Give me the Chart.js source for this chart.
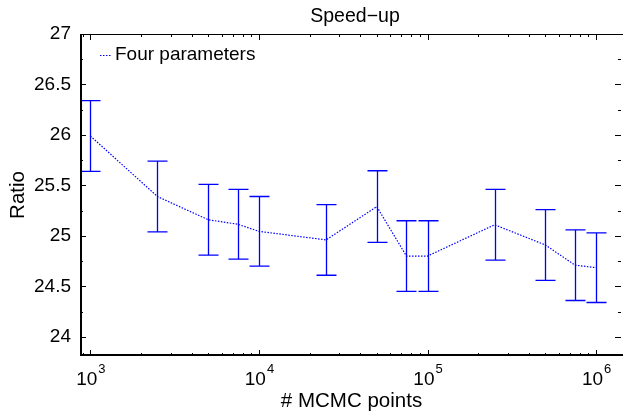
<!DOCTYPE html>
<html>
<head>
<meta charset="utf-8">
<script src="https://cdn.jsdelivr.net/npm/chart.js@4.4.0/dist/chart.umd.min.js"></script>
<style>
  html, body { margin: 0; padding: 0; background: #fff; }
  canvas { display: block; }
</style>
</head>
<body>
<canvas id="speedup" width="623" height="415"></canvas>
<script>
// data
const mcmcPoints = [1000, 2500, 5000, 7500, 10000, 25000, 50000, 75000, 100000, 250000, 500000, 750000, 1000000];
const ratio      = [25.99, 25.39, 25.16, 25.115, 25.045, 24.96, 25.29, 24.80, 24.80, 25.11, 24.91, 24.71, 24.685];
const ratioErr   = [0.35, 0.35, 0.35, 0.345, 0.345, 0.35, 0.355, 0.35, 0.35, 0.35, 0.35, 0.35, 0.345];
const yTicks     = [24, 24.5, 25, 25.5, 26, 26.5, 27];
const xTicks     = [1e3, 1e4, 1e5, 1e6];
const seriesName = 'Four parameters';

const FONT = "'Liberation Sans', Arial, Helvetica, sans-serif";
const BLUE = '#0000ff';

// error bars, axis frame, minor ticks, labels
const decorPlugin = {
  id: 'decor',
  afterDatasetsDraw(chart) {
    const ctx = chart.ctx;
    const xs = chart.scales.x, ys = chart.scales.y;
    ctx.save();
    ctx.strokeStyle = BLUE;
    ctx.lineWidth = 1.3;
    mcmcPoints.forEach((v, i) => {
      const px = Math.round(xs.getPixelForValue(v)) + 0.5;
      const top = ys.getPixelForValue(ratio[i] + ratioErr[i]);
      const bot = ys.getPixelForValue(ratio[i] - ratioErr[i]);
      ctx.beginPath();
      ctx.moveTo(px, top); ctx.lineTo(px, bot);
      ctx.moveTo(px - 10, top); ctx.lineTo(px + 10, top);
      ctx.moveTo(px - 10, bot); ctx.lineTo(px + 10, bot);
      ctx.stroke();
    });
    ctx.restore();
  },
  afterDraw(chart) {
    const ctx = chart.ctx;
    const a = chart.chartArea;
    const xs = chart.scales.x, ys = chart.scales.y;
    ctx.save();
    ctx.strokeStyle = '#000';

    // frame
    ctx.lineWidth = 1.2;
    ctx.beginPath();
    ctx.moveTo(a.left, a.top + 0.5); ctx.lineTo(a.right, a.top + 0.5);
    ctx.stroke();
    ctx.lineWidth = 2;
    ctx.beginPath();
    ctx.moveTo(a.left + 1, a.top); ctx.lineTo(a.left + 1, a.bottom);
    ctx.moveTo(a.left, a.bottom - 1); ctx.lineTo(a.right, a.bottom - 1);
    ctx.stroke();

    // inner ticks
    ctx.lineWidth = 1;
    ctx.beginPath();
    for (let e = 2; e <= 6; e++) {
      for (let m = 1; m <= 9; m++) {
        const v = m * Math.pow(10, e);
        if (v < xs.min || v > xs.max) continue;
        const px = Math.round(xs.getPixelForValue(v)) + 0.5;
        const len = m === 1 ? 6 : 3;
        ctx.moveTo(px, a.bottom); ctx.lineTo(px, a.bottom - len);
        ctx.moveTo(px, a.top); ctx.lineTo(px, a.top + len);
      }
    }
    for (let v = 24; v <= 27.001; v += 0.25) {
      const py = Math.round(ys.getPixelForValue(v)) + 0.5;
      const len = Math.abs(v * 2 - Math.round(v * 2)) < 1e-6 ? 6 : 3;
      ctx.moveTo(a.left, py); ctx.lineTo(a.left + len, py);
      ctx.moveTo(a.right - 2, py); ctx.lineTo(a.right - 2 - len, py);
    }
    ctx.stroke();

    // x tick labels as powers of ten
    ctx.fillStyle = '#000';
    ctx.textBaseline = 'alphabetic';
    xTicks.forEach(v => {
      const px = xs.getPixelForValue(v);
      const exp = String(Math.round(Math.log10(v)));
      ctx.font = '19px ' + FONT;
      const wb = ctx.measureText('10').width;
      ctx.font = '13px ' + FONT;
      const we = ctx.measureText(exp).width;
      const x0 = px - (wb + we) / 2;
      ctx.font = '19px ' + FONT;
      ctx.textAlign = 'left';
      ctx.fillText('10', x0, 385);
      ctx.font = '13px ' + FONT;
      ctx.fillText(exp, x0 + wb + 1, 373);
    });

    // axis titles and title
    ctx.textAlign = 'center';
    ctx.textBaseline = 'middle';
    ctx.font = '20.5px ' + FONT;
    ctx.fillText('# MCMC points', (a.left + a.right) / 2, 401);
    ctx.save();
    ctx.translate(18, (a.top + a.bottom) / 2);
    ctx.rotate(-Math.PI / 2);
    ctx.fillText('Ratio', 0, 0);
    ctx.restore();
    ctx.font = '19.5px ' + FONT;
    ctx.fillText('Speed\u2212up', 355, 17);

    // legend inside the axes
    ctx.strokeStyle = BLUE;
    ctx.lineWidth = 1.2;
    ctx.setLineDash([1.5, 1.5]);
    ctx.beginPath();
    ctx.moveTo(100, 55.5); ctx.lineTo(112, 55.5);
    ctx.stroke();
    ctx.setLineDash([]);
    ctx.textAlign = 'left';
    ctx.font = '19px ' + FONT;
    ctx.fillText(seriesName, 115, 55);
    ctx.restore();
  }
};

new Chart(document.getElementById('speedup'), {
  type: 'line',
  data: {
    datasets: [{
      label: seriesName,
      data: mcmcPoints.map((x, i) => ({ x: x, y: ratio[i] })),
      borderColor: BLUE,
      borderWidth: 1.2,
      borderDash: [1.5, 1.5],
      pointRadius: 0,
      tension: 0,
      fill: false
    }]
  },
  options: {
    responsive: false,
    devicePixelRatio: 1,
    animation: false,
    layout: { padding: { top: 34, right: 0, left: 0, bottom: 0 } },
    plugins: {
      legend: { display: false },
      title: { display: false },
      tooltip: { enabled: false }
    },
    scales: {
      x: {
        type: 'logarithmic',
        min: 868,
        max: 1444000,
        grid: { display: false, drawTicks: false },
        border: { display: false },
        ticks: { display: false },
        afterBuildTicks: s => { s.ticks = xTicks.map(v => ({ value: v })); },
        afterFit: s => { s.height = 59; }
      },
      y: {
        min: 23.81,
        max: 27,
        grid: { display: false, drawTicks: false },
        border: { display: false },
        ticks: {
          color: '#000',
          padding: 9,
          font: { family: FONT, size: 19 },
          callback: v => String(v)
        },
        afterBuildTicks: s => { s.ticks = yTicks.map(v => ({ value: v })); },
        afterFit: s => { s.width = 80; }
      }
    }
  },
  plugins: [decorPlugin]
});
</script>
</body>
</html>
